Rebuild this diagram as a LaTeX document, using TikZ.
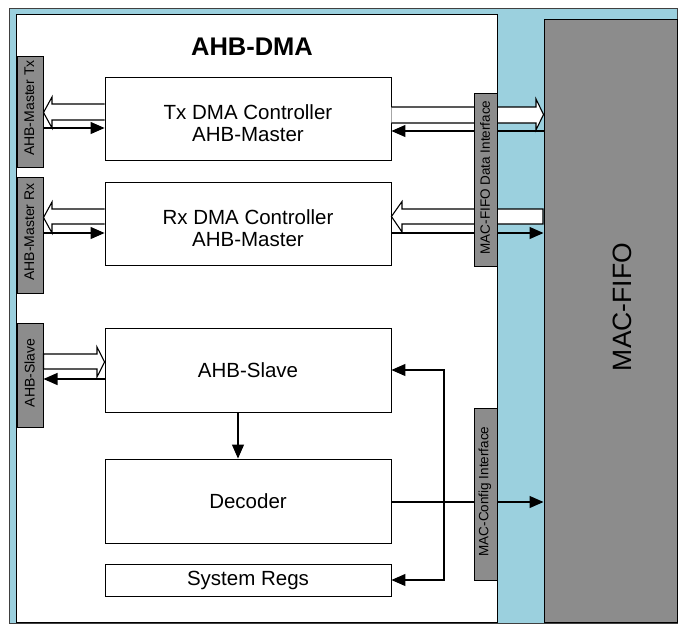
\documentclass[tikz,border=0pt]{standalone}
\usepackage{fontspec}
\setmainfont{Liberation Sans}
\usetikzlibrary{arrows.meta,calc}
\definecolor{bgblue}{RGB}{155,208,222}
\definecolor{boxgray}{RGB}{140,140,140}
\begin{document}
\begin{tikzpicture}[x=1pt,y=-1pt,
  blk/.style={draw=black,line width=0.9pt,fill=white,inner sep=0pt,align=center,
    minimum width=286pt,font=\fontsize{20.5}{22}\selectfont},
  blktext/.style={inner sep=0pt,align=center,font=\fontsize{20.5}{22}\selectfont},
  tabbox/.style={draw=black,line width=1pt,fill=boxgray,inner sep=0pt},
  tablabel/.style={rotate=90,inner sep=0pt,font=\fontsize{14}{16}\selectfont},
  sarrow/.style={draw=black,line width=1.2pt,-{Triangle[length=14pt,width=12pt]}},
  hollow/.style={draw=black,line width=1.1pt,fill=white,line join=miter}]
\useasboundingbox (0,0) rectangle (678,624);
% background frame
\draw[fill=bgblue,draw=black!75,line width=1pt] (9,8) rectangle (677,623);
\draw[fill=white,draw=black,line width=1pt] (16.5,14) rectangle (497,622);
% MAC-FIFO
\node[tabbox,minimum width=133pt,minimum height=603pt] (fifo) at (610.5,320.5) {};
\node[rotate=90,inner sep=0pt,font=\fontsize{26.5}{30}\selectfont] (fifolabel) at (622,307) {MAC-FIFO};
% title
\node[font=\fontsize{25.5}{28}\selectfont\bfseries] (title) at (252,47) {AHB-DMA};
% blocks
\node[blk,minimum height=83pt] (tx) at (248,118.5) {};
\node[blktext] (txtext) at ([yshift=-4.5pt]tx.center) {Tx DMA Controller\\AHB-Master};
\node[blk,minimum height=83pt] (rx) at (248,223.5) {};
\node[blktext] (rxtext) at ([yshift=-5pt]rx.center) {Rx DMA Controller\\AHB-Master};
\node[blk,minimum height=84pt] (slave) at (248,370) {AHB-Slave};
\node[blk,minimum height=84pt] (dec) at (248,501) {Decoder};
\node[blk,minimum height=32pt] (regs) at (248,580) {System Regs};
% right side arrows (drawn below the interface tabs)
\path[hollow] (tx.east |- 0,107) -- (536,107) -- (536,99) -- (fifo.west |- 0,114.5)
  -- (536,130) -- (536,123) -- (tx.east |- 0,123);
\draw[sarrow] (fifo.west |- 0,131) -- (tx.east |- 0,131);
\path[hollow] (rx.east |- 0,216.5) -- (402,201.5) -- (402,209) -- (543,209)
  -- (543,224) -- (402,224) -- (402,232) -- cycle;
\draw[sarrow] (rx.east |- 0,233) -- (fifo.west |- 0,233);
\draw[sarrow] (dec.east |- 0,502) -- (fifo.west |- 0,502);
\coordinate (bus) at (444,475);
\draw[sarrow] (bus) -- (444,370) -- (slave.east);
\draw[sarrow] (bus) -- (444,580) -- (regs.east);
\draw[sarrow] (slave.south -| 238,0) -- (dec.north -| 238,0);
% interface tabs
\node[tabbox,minimum width=26pt,minimum height=111pt] (tabtx) at (30,111.5) {};
\node[tablabel] (labtx) at (29.5,108) {AHB-Master Tx};
\node[tabbox,minimum width=26pt,minimum height=116pt] (tabrx) at (30,235) {};
\node[tablabel] (labrx) at (29.5,232) {AHB-Master Rx};
\node[tabbox,minimum width=26pt,minimum height=104pt] (tabsl) at (30,375) {};
\node[tablabel] (labsl) at (29.5,373) {AHB-Slave};
\node[tabbox,minimum width=23pt,minimum height=173pt] (tabdata) at (485.5,179.5) {};
\node[tablabel,font=\fontsize{13.5}{15}\selectfont] (labdata) at (485,177.5) {MAC-FIFO Data Interface};
\node[tabbox,minimum width=23pt,minimum height=172pt] (tabcfg) at (485.5,494) {};
\node[tablabel,font=\fontsize{13.5}{15}\selectfont] (labcfg) at (485,491.5) {MAC-Config Interface};
% left side arrows
\path[hollow] (tx.west |- 0,104) -- (52,104) -- (52,97) -- (tabtx.east |- 0,112.5)
  -- (52,128) -- (52,120) -- (tx.west |- 0,120);
\draw[sarrow] (tabtx.east |- 0,128) -- (tx.west |- 0,128);
\path[hollow] (rx.west |- 0,209) -- (52,209) -- (52,202) -- (tabrx.east |- 0,217.5)
  -- (52,233) -- (52,224) -- (rx.west |- 0,224);
\draw[sarrow] (tabrx.east |- 0,233) -- (rx.west |- 0,233);
\path[hollow] (tabsl.east |- 0,354) -- (97,354) -- (97,347) -- (slave.west |- 0,362)
  -- (97,377) -- (97,369) -- (tabsl.east |- 0,369) -- cycle;
\draw[sarrow] (slave.west |- 0,379) -- (tabsl.east |- 0,379);
\end{tikzpicture}
\end{document}
